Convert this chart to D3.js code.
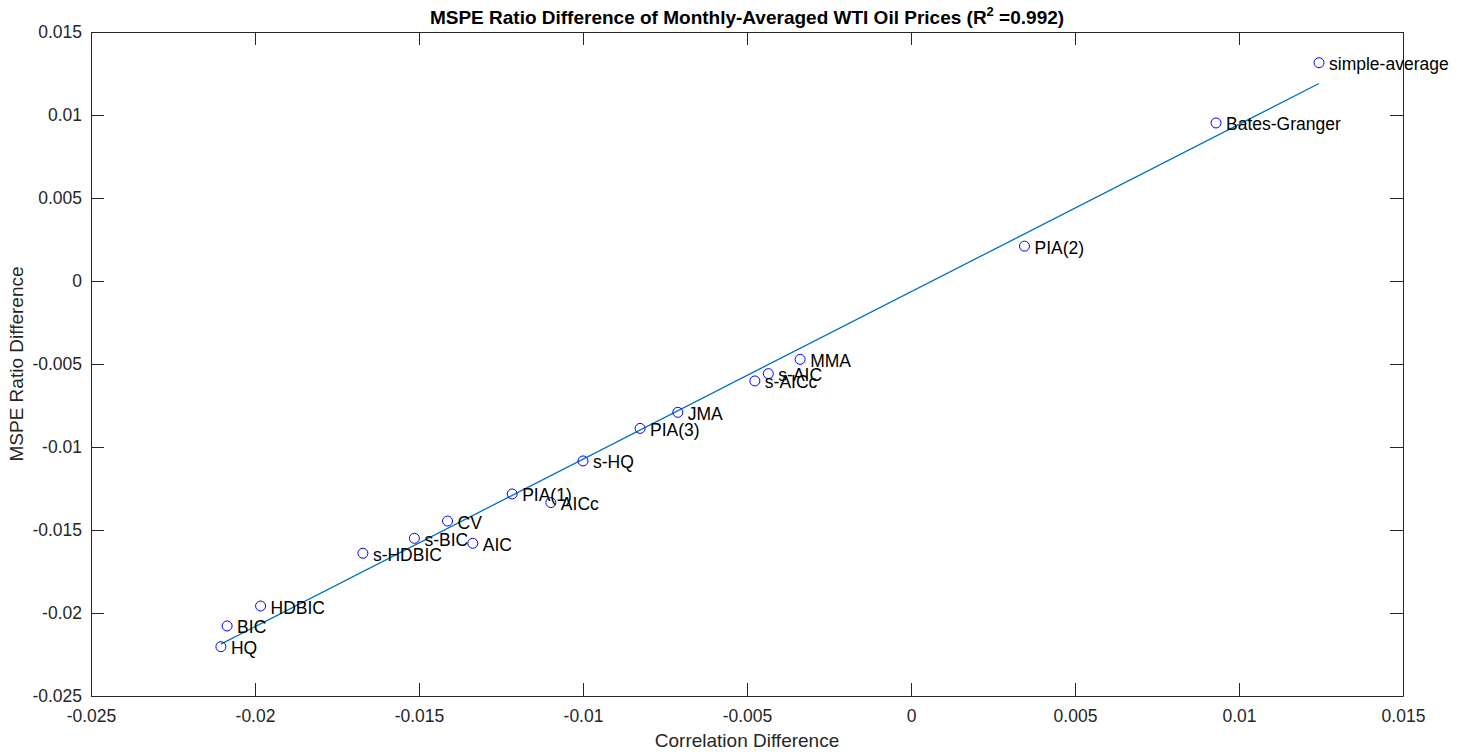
<!DOCTYPE html>
<html>
<head>
<meta charset="utf-8">
<script src="https://cdn.jsdelivr.net/npm/d3@7"></script>
<style>
  body { margin: 0; background: #fff; }
  text { font-family: "Liberation Sans", Arial, Helvetica, sans-serif; }
</style>
</head>
<body>
<svg id="chart" width="1466" height="756"></svg>
<script>
const labels = ["simple-average","Bates-Granger","PIA(2)","MMA","s-AIC","s-AICc","JMA","PIA(3)","s-HQ","PIA(1)","AICc","CV","s-BIC","AIC","s-HDBIC","HDBIC","BIC","HQ"];
const corrDiff = [0.01244, 0.00930, 0.00346, -0.00338, -0.00435, -0.00476, -0.00711, -0.00826, -0.01000, -0.01216, -0.01098, -0.01413, -0.01514, -0.01336, -0.01671, -0.01983, -0.02085, -0.02104];
const mspeDiff = [0.01315, 0.00952, 0.00210, -0.00472, -0.00558, -0.00602, -0.00791, -0.00888, -0.01084, -0.01283, -0.01335, -0.01446, -0.01550, -0.01580, -0.01640, -0.01958, -0.02078, -0.02203];
const xTicks = [-0.025, -0.02, -0.015, -0.01, -0.005, 0, 0.005, 0.01, 0.015];
const yTicks = [-0.025, -0.02, -0.015, -0.01, -0.005, 0, 0.005, 0.01, 0.015];
const xDomain = [-0.025, 0.015];
const yDomain = [-0.025, 0.015];

const svg = d3.select("#chart");
const L = 91, R = 1403, T = 32, B = 696;
const x = d3.scaleLinear().domain(xDomain).range([L, R]);
const y = d3.scaleLinear().domain(yDomain).range([B, T]);
const axisColor = "#262626";
const fmt = d => d === 0 ? "0" : String(+d.toFixed(3));

// axes with inward ticks on all sides
const tickLen = 13;
const gx = svg.append("g").attr("transform", `translate(0,${B})`)
  .call(d3.axisBottom(x).tickValues(xTicks).tickFormat(fmt).tickSizeInner(-tickLen).tickSizeOuter(0).tickPadding(14));
const gxt = svg.append("g").attr("transform", `translate(0,${T})`)
  .call(d3.axisTop(x).tickValues(xTicks).tickFormat("").tickSizeInner(-tickLen).tickSizeOuter(0));
const gy = svg.append("g").attr("transform", `translate(${L},0)`)
  .call(d3.axisLeft(y).tickValues(yTicks).tickFormat(fmt).tickSizeInner(-tickLen).tickSizeOuter(0).tickPadding(9));
const gyr = svg.append("g").attr("transform", `translate(${R},0)`)
  .call(d3.axisRight(y).tickValues(yTicks).tickFormat("").tickSizeInner(-tickLen).tickSizeOuter(0));
[gx, gxt, gy, gyr].forEach(g => {
  g.select(".domain").attr("stroke", axisColor).attr("stroke-width", 1);
  g.selectAll(".tick line").attr("stroke", axisColor).attr("stroke-width", 1);
  g.selectAll(".tick text").attr("fill", axisColor).attr("font-size", 17.5)
    .attr("font-family", '"Liberation Sans", Arial, sans-serif');
});

// regression line (least squares)
const n = corrDiff.length;
const mx = d3.mean(corrDiff), my = d3.mean(mspeDiff);
let sxy = 0, sxx = 0;
for (let i = 0; i < n; i++) { sxy += (corrDiff[i]-mx)*(mspeDiff[i]-my); sxx += (corrDiff[i]-mx)**2; }
const slope = sxy / sxx, icpt = my - slope * mx;
const xmin = d3.min(corrDiff), xmax = d3.max(corrDiff);
svg.append("line")
  .attr("x1", x(xmin)).attr("y1", y(icpt + slope * xmin))
  .attr("x2", x(xmax)).attr("y2", y(icpt + slope * xmax))
  .attr("stroke", "#0072BD").attr("stroke-width", 1.3);

// points
const data = labels.map((l, i) => ({ l, cx: corrDiff[i], cy: mspeDiff[i] }));
svg.append("g").selectAll("circle").data(data).join("circle")
  .attr("cx", d => x(d.cx)).attr("cy", d => y(d.cy)).attr("r", 5)
  .attr("fill", "none").attr("stroke", "#0000FF").attr("stroke-width", 1);
svg.append("g").selectAll("text").data(data).join("text")
  .attr("x", d => x(d.cx) + 10).attr("y", d => y(d.cy) + 7.5)
  .attr("font-size", 17.5).attr("fill", "#000").text(d => d.l);

// title
const title = svg.append("text").attr("x", (L + R) / 2).attr("y", 24)
  .attr("text-anchor", "middle").attr("font-size", 19).attr("font-weight", "bold").attr("fill", "#000");
title.append("tspan").text("MSPE Ratio Difference of Monthly-Averaged WTI Oil Prices (R");
title.append("tspan").attr("dy", -8).attr("font-size", 13).text("2");
title.append("tspan").attr("dy", 8).text(" =0.992)");

// axis labels
svg.append("text").attr("x", (L + R) / 2).attr("y", 747).attr("text-anchor", "middle")
  .attr("font-size", 19).attr("fill", axisColor).text("Correlation Difference");
svg.append("text").attr("transform", `translate(23,${(T + B) / 2}) rotate(-90)`).attr("text-anchor", "middle")
  .attr("font-size", 19).attr("fill", axisColor).text("MSPE Ratio Difference");
</script>
</body>
</html>
